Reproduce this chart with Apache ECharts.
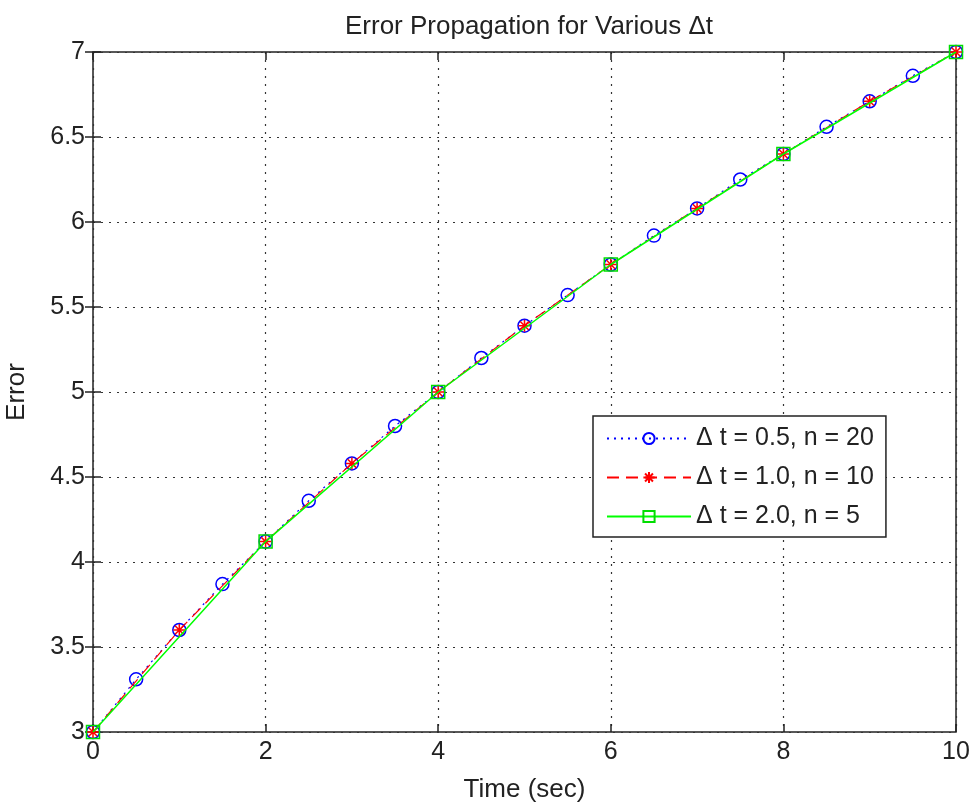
<!DOCTYPE html>
<html>
<head>
<meta charset="utf-8">
<script src="https://cdn.jsdelivr.net/npm/echarts@6/dist/echarts.min.js"></script>
<style>
  html, body { margin: 0; padding: 0; background: #fff; }
  #chart { width: 972px; height: 806px; }
</style>
</head>
<body>
<div id="chart"></div>
<script>
// step 0.5 s, 20 steps
const t05 = [0, 0.5, 1, 1.5, 2, 2.5, 3, 3.5, 4, 4.5, 5, 5.5, 6, 6.5, 7, 7.5, 8, 8.5, 9, 9.5, 10];
const e05 = [3.00, 3.31, 3.60, 3.87, 4.12, 4.36, 4.58, 4.80, 5.00, 5.20, 5.39, 5.57, 5.75, 5.92, 6.08, 6.25, 6.40, 6.56, 6.71, 6.86, 7.00];
// step 1.0 s, 10 steps
const t10 = [0, 1, 2, 3, 4, 5, 6, 7, 8, 9, 10];
const e10 = [3.00, 3.60, 4.12, 4.58, 5.00, 5.39, 5.75, 6.08, 6.40, 6.71, 7.00];
// step 2.0 s, 5 steps
const t20 = [0, 2, 4, 6, 8, 10];
const e20 = [3.00, 4.12, 5.00, 5.75, 6.40, 7.00];

const seriesNames = ['\u0394 t = 0.5, n = 20', '\u0394 t = 1.0, n = 10', '\u0394 t = 2.0, n = 5'];

const FONT = '"Liberation Sans", Arial, sans-serif';
const asterisk = 'path://M0,-10L0,10M-10,0L10,0M-7.07,-7.07L7.07,7.07M-7.07,7.07L7.07,-7.07';

const pairs = (xs, ys) => xs.map((x, i) => [x, ys[i]]);

const chart = echarts.init(document.getElementById('chart'));

const tickStyle = { show: true, inside: true, length: 8, lineStyle: { color: '#222', width: 1.5 } };
const gridLine = { show: true, lineStyle: { color: '#333', width: 1.2, type: [2, 6] } };
const labelStyle = { fontFamily: FONT, fontSize: 25, color: '#222', margin: 8 };
const nameStyle = { fontFamily: FONT, fontSize: 26, color: '#222' };

const option = {
  backgroundColor: '#fff',
  animation: false,
  title: {
    text: 'Error Propagation for Various \u0394t',
    left: 524, top: 9, textAlign: 'center',
    textStyle: { fontFamily: FONT, fontWeight: 'normal', fontSize: 26, color: '#222' }
  },
  grid: {
    left: 93, right: 16, top: 52, bottom: 74,
    outerBoundsMode: 'none', containLabel: false,
    show: true, borderColor: '#222', borderWidth: 1.5, backgroundColor: '#fff'
  },
  legend: {
    orient: 'vertical',
    left: 593, top: 416,
    padding: [10, 12, 8, 13],
    itemGap: 14,
    itemWidth: 84, itemHeight: 14,
    backgroundColor: '#fff',
    borderColor: '#222', borderWidth: 1.5, borderRadius: 0,
    textStyle: { fontFamily: FONT, fontSize: 25, color: '#222' },
    data: seriesNames
  },
  xAxis: [
    {
      type: 'value', min: 0, max: 10, interval: 2,
      name: 'Time (sec)', nameLocation: 'middle', nameGap: 45,
      nameTextStyle: nameStyle,
      axisLine: { show: false },
      axisTick: tickStyle,
      axisLabel: labelStyle,
      splitLine: gridLine
    },
    {
      type: 'value', min: 0, max: 10, interval: 2, position: 'top',
      axisLine: { show: false },
      axisTick: tickStyle,
      axisLabel: { show: false },
      splitLine: { show: false }
    }
  ],
  yAxis: [
    {
      type: 'value', min: 3, max: 7, interval: 0.5,
      name: 'Error', nameLocation: 'middle', nameGap: 63,
      nameTextStyle: nameStyle,
      axisLine: { show: false },
      axisTick: tickStyle,
      axisLabel: labelStyle,
      splitLine: gridLine
    },
    {
      type: 'value', min: 3, max: 7, interval: 0.5, position: 'right',
      axisLine: { show: false },
      axisTick: tickStyle,
      axisLabel: { show: false },
      splitLine: { show: false }
    }
  ],
  series: [
    {
      name: seriesNames[0], type: 'line', data: pairs(t05, e05),
      symbol: 'circle', symbolSize: 13, showAllSymbol: true,
      lineStyle: { color: '#0000ff', width: 1.2, type: [2, 5] },
      itemStyle: { color: 'rgba(255,255,255,0)', borderColor: '#0000ff', borderWidth: 1.5 },
      z: 3
    },
    {
      name: seriesNames[1], type: 'line', data: pairs(t10, e10),
      symbol: asterisk, symbolSize: 12, showAllSymbol: true,
      lineStyle: { color: '#ff0000', width: 1.2, type: [12, 7] },
      itemStyle: { color: 'rgba(255,255,255,0)', borderColor: '#ff0000', borderWidth: 1.5 },
      z: 4
    },
    {
      name: seriesNames[2], type: 'line', data: pairs(t20, e20),
      symbol: 'rect', symbolSize: 13, showAllSymbol: true,
      lineStyle: { color: '#00ff00', width: 1.5, type: 'solid' },
      itemStyle: { color: 'rgba(255,255,255,0)', borderColor: '#00dd00', borderWidth: 1.5 },
      z: 5
    }
  ]
};

chart.setOption(option);
window.addEventListener('resize', () => chart.resize());
</script>
</body>
</html>
